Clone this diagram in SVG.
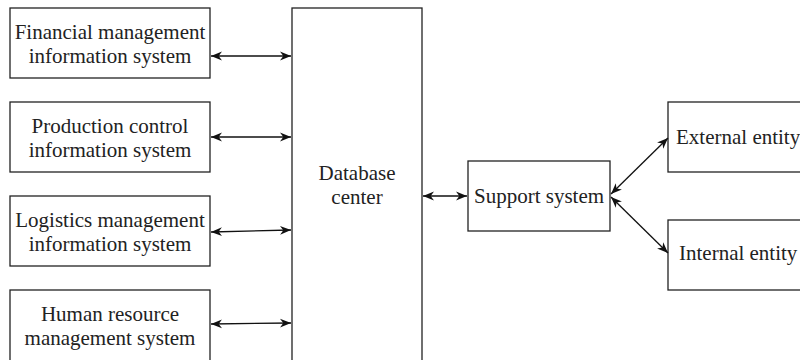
<svg xmlns="http://www.w3.org/2000/svg" width="800" height="360" viewBox="0 0 800 360">
<defs>
<style>
.box{fill:#fff;stroke:#222;stroke-width:1.3}
.t{font-family:"Liberation Serif","Times New Roman",serif;font-size:21px;fill:#222;text-anchor:middle}
.c{fill:none;stroke:#111;stroke-width:1.3}
</style>
<marker id="ah" viewBox="0 0 10 10" refX="10" refY="5" markerWidth="11" markerHeight="11" markerUnits="userSpaceOnUse" orient="auto-start-reverse">
<path d="M0,1 L10,5 L0,9 L3,5 Z" fill="#111"/>
</marker>
</defs>
<rect width="800" height="360" fill="#fff"/>
<g id="financial"><rect class="box" x="10" y="8" width="200" height="70"/><text class="t" x="110" y="39">Financial management</text><text class="t" x="110" y="63">information system</text></g>
<g id="production"><rect class="box" x="10" y="102" width="200" height="70"/><text class="t" x="110" y="133">Production control</text><text class="t" x="110" y="157">information system</text></g>
<g id="logistics"><rect class="box" x="10" y="196" width="200" height="70"/><text class="t" x="110" y="227">Logistics management</text><text class="t" x="110" y="251">information system</text></g>
<g id="human"><rect class="box" x="10" y="290" width="200" height="72"/><text class="t" x="110" y="321">Human resource</text><text class="t" x="110" y="345">management system</text></g>
<g id="database"><rect class="box" x="292" y="8" width="130" height="356"/><text class="t" x="357" y="180">Database</text><text class="t" x="357" y="204">center</text></g>
<g id="support"><rect class="box" x="468" y="161" width="142" height="70"/><text class="t" x="539" y="203">Support system</text></g>
<g id="external"><rect class="box" x="668" y="102" width="150" height="70"/><text class="t" x="676" y="144" style="text-anchor:start">External entity</text></g>
<g id="internal"><rect class="box" x="668" y="220" width="150" height="70"/><text class="t" x="679" y="260" style="text-anchor:start">Internal entity</text></g>
<g id="connectors">
<line class="c" x1="211" y1="56" x2="291" y2="56" marker-start="url(#ah)" marker-end="url(#ah)"/>
<line class="c" x1="211" y1="137" x2="291" y2="137" marker-start="url(#ah)" marker-end="url(#ah)"/>
<line class="c" x1="211" y1="232" x2="291" y2="230" marker-start="url(#ah)" marker-end="url(#ah)"/>
<line class="c" x1="211" y1="324" x2="291" y2="323" marker-start="url(#ah)" marker-end="url(#ah)"/>
<line class="c" x1="423" y1="196" x2="467" y2="196" marker-start="url(#ah)" marker-end="url(#ah)"/>
<line class="c" x1="611" y1="194" x2="668" y2="138" marker-start="url(#ah)" marker-end="url(#ah)"/>
<line class="c" x1="611" y1="197" x2="668" y2="253" marker-start="url(#ah)" marker-end="url(#ah)"/>
</g>
</svg>
